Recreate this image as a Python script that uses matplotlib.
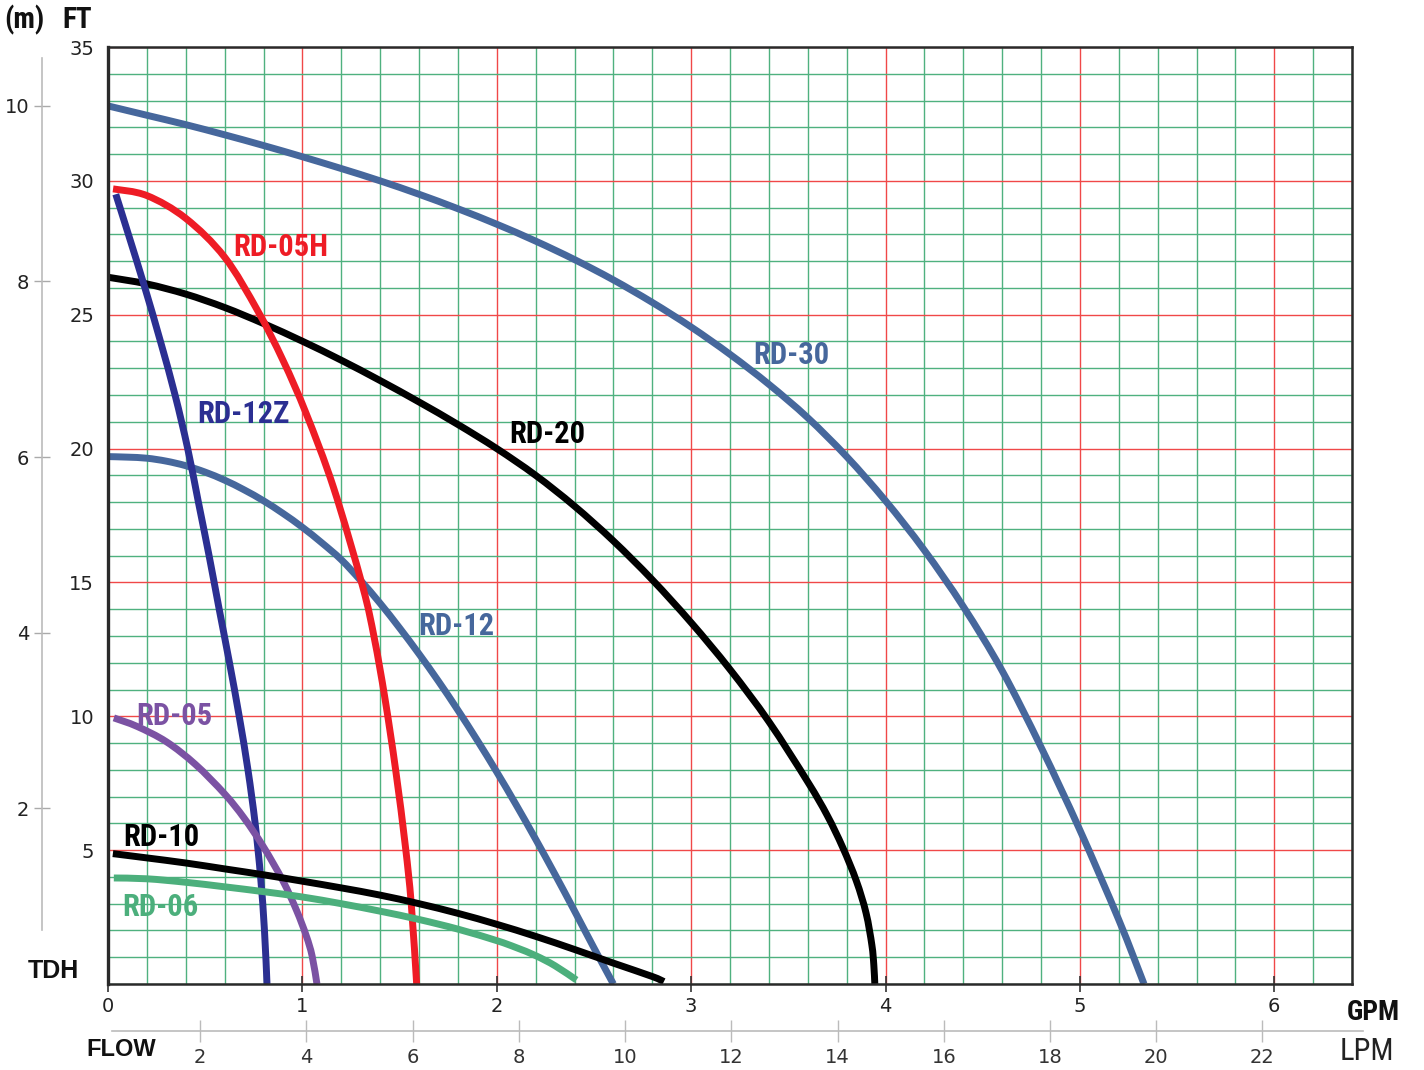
import matplotlib
matplotlib.use("Agg")
import matplotlib.pyplot as plt
from matplotlib import font_manager
from matplotlib.path import Path
from matplotlib.patches import PathPatch

# ---------------- data (GPM, FT) ----------------
rd30_gpm = [0.0, 0.2, 0.4, 0.6, 0.8, 1.0, 1.2, 1.4, 1.6, 1.8, 2.0, 2.2, 2.4, 2.6, 2.8, 3.0,
            3.2, 3.4, 3.6, 3.8, 4.0, 4.2, 4.4, 4.6, 4.8, 5.0, 5.2, 5.33]
rd30_ft = [32.8, 32.45, 32.1, 31.72, 31.32, 30.9, 30.46, 30.0, 29.5, 28.96, 28.38, 27.75, 27.06,
           26.3, 25.46, 24.54, 23.52, 22.4, 21.15, 19.7, 18.05, 16.2, 14.1, 11.7, 8.85, 5.75,
           2.4, 0.0]

rd20_gpm = [0.0, 0.2, 0.4, 0.6, 0.8, 1.0, 1.2, 1.4, 1.6, 1.8, 2.0, 2.2, 2.4, 2.6, 2.8, 3.0,
            3.2, 3.4, 3.6, 3.7, 3.78, 3.85, 3.9, 3.93, 3.94, 3.945]
rd20_ft = [26.4, 26.15, 25.77, 25.27, 24.67, 24.01, 23.3, 22.54, 21.74, 20.9, 20.0, 19.0, 17.85,
           16.55, 15.1, 13.5, 11.75, 9.8, 7.55, 6.3, 5.1, 3.85, 2.65, 1.45, 0.7, 0.0]

rd12_gpm = [0.0, 0.1, 0.2, 0.3, 0.4, 0.5, 0.6, 0.7, 0.8, 0.9, 1.0, 1.1, 1.2, 1.3, 1.4, 1.5,
            1.6, 1.7, 1.8, 1.9, 2.0, 2.1, 2.2, 2.3, 2.4, 2.5, 2.6]
rd12_ft = [19.7, 19.68, 19.64, 19.53, 19.36, 19.12, 18.82, 18.46, 18.05, 17.58, 17.06, 16.48,
           15.85, 15.07, 14.22, 13.3, 12.33, 11.31, 10.23, 9.1, 7.92, 6.69, 5.41, 4.09, 2.73,
           1.35, 0.0]

rd05h_gpm = [0.026, 0.2, 0.4, 0.6, 0.77, 0.9, 1.02, 1.16, 1.31, 1.37, 1.425, 1.48, 1.53, 1.56,
             1.588]
rd05h_ft = [29.7, 29.45, 28.6, 27.15, 25.15, 23.3, 21.3, 18.55, 14.85, 12.92, 10.66, 7.99,
            5.14, 3.01, 0.0]

rd12z_gpm = [0.04, 0.105, 0.19, 0.27, 0.345, 0.41, 0.465, 0.52, 0.572, 0.625, 0.675, 0.72,
             0.757, 0.785, 0.805, 0.818]
rd12z_ft = [29.5, 28.0, 26.0, 24.0, 22.0, 20.0, 18.0, 16.0, 14.0, 12.0, 10.0, 8.0, 6.0, 4.0,
            2.0, 0.0]

rd05_gpm = [0.03, 0.15, 0.3, 0.45, 0.6, 0.7, 0.8, 0.9, 0.97, 1.02, 1.05, 1.075]
rd05_ft = [9.94, 9.62, 9.05, 8.2, 7.1, 6.2, 5.12, 3.85, 2.75, 1.8, 1.05, 0.0]

rd10_gpm = [0.025, 0.2, 0.4, 0.6, 0.8, 1.0, 1.2, 1.4, 1.6, 1.8, 2.0, 2.2, 2.4, 2.6, 2.8, 2.86]
rd10_ft = [4.87, 4.71, 4.52, 4.3, 4.08, 3.84, 3.59, 3.32, 3.0, 2.64, 2.23, 1.78, 1.29, 0.78,
           0.28, 0.09]

rd06_gpm = [0.03, 0.2, 0.4, 0.6, 0.8, 1.0, 1.2, 1.4, 1.6, 1.8, 2.0, 2.1, 2.2, 2.3, 2.41]
rd06_ft = [3.96, 3.93, 3.8, 3.63, 3.45, 3.25, 3.0, 2.72, 2.41, 2.05, 1.62, 1.36, 1.06, 0.68, 0.15]

gpm_ticks = [0, 1, 2, 3, 4, 5, 6]
ft_ticks = [5, 10, 15, 20, 25, 30, 35]
m_ticks = [2, 4, 6, 8, 10]
lpm_ticks = [2, 4, 6, 8, 10, 12, 14, 16, 18, 20, 22]

# ---------------- fonts ----------------
_avail = {f.name for f in font_manager.fontManager.ttflist}


def pick(*names):
    for n in names:
        if n in _avail:
            return n
    return None


NARROW = pick("Liberation Sans Narrow", "Arial Narrow", "Roboto Condensed", "Open Sans Condensed")
SANS = pick("Liberation Sans", "Arial") or "DejaVu Sans"
LABFONT = NARROW or SANS
LABSIZE = 22 if NARROW else 20
DIG = "DejaVu Sans"

# ---------------- figure ----------------
W, H = 1424, 1070
fig = plt.figure(figsize=(W / 100, H / 100), dpi=100)
fig.patch.set_facecolor("white")

L, R, T, B = 108, 1352, 47, 984
ax = fig.add_axes([L / W, 1 - B / H, (R - L) / W, (B - T) / H])
ax.set_xlim(0, 6.4)
ax.set_ylim(0, 35)

GREEN = "#4fb17f"
RED = "#f04848"
ax.set_xticks([i * 0.2 for i in range(33)], minor=True)
ax.set_yticks(range(36), minor=True)
ax.set_xticks(gpm_ticks)
ax.set_yticks(ft_ticks)
ax.grid(which="minor", color=GREEN, lw=1.0, zorder=0)
ax.grid(which="major", color=RED, lw=1.0, zorder=0.5)
ax.set_axisbelow(True)

for s in ax.spines.values():
    s.set_color("#2a2a2a")
    s.set_linewidth(1.8)
    s.set_zorder(5)
ax.spines["left"].set_linewidth(2.4)

ax.tick_params(axis="x", which="major", direction="inout", length=12, width=1.2,
               color="#333333", pad=3, labelsize=14, labelcolor="#222222")
ax.tick_params(axis="x", which="minor", length=0)
ax.tick_params(axis="y", which="both", length=0, pad=10, labelsize=14, labelcolor="#222222")
for lab in ax.get_xticklabels() + ax.get_yticklabels():
    lab.set_fontfamily(DIG)


def smooth_path(xs, ys):
    """Cubic Bezier path passing through every data point (Catmull-Rom tangents)."""
    pts = list(zip(xs, ys))
    n = len(pts)
    verts = [pts[0]]
    codes = [Path.MOVETO]
    for i in range(n - 1):
        p0 = pts[i - 1] if i > 0 else pts[i]
        p1 = pts[i]
        p2 = pts[i + 1]
        p3 = pts[i + 2] if i + 2 < n else pts[i + 1]
        c1 = (p1[0] + (p2[0] - p0[0]) / 6.0, p1[1] + (p2[1] - p0[1]) / 6.0)
        c2 = (p2[0] - (p3[0] - p1[0]) / 6.0, p2[1] - (p3[1] - p1[1]) / 6.0)
        verts += [c1, c2, p2]
        codes += [Path.CURVE4] * 3
    return Path(verts, codes)


BLUE = "#46679c"
curves = [
    (rd30_gpm, rd30_ft, BLUE),
    (rd20_gpm, rd20_ft, "#000000"),
    (rd12_gpm, rd12_ft, BLUE),
    (rd05h_gpm, rd05h_ft, "#ee1c25"),
    (rd12z_gpm, rd12z_ft, "#2b2f92"),
    (rd05_gpm, rd05_ft, "#7b52a3"),
    (rd10_gpm, rd10_ft, "#000000"),
    (rd06_gpm, rd06_ft, "#4caf7c"),
]
for xs, ys, c in curves:
    ax.add_patch(PathPatch(smooth_path(xs, ys), facecolor="none", edgecolor=c, lw=5.0,
                           capstyle="butt", joinstyle="round", zorder=3))

# curve labels
lab_kw = dict(fontsize=LABSIZE, fontweight="bold", fontfamily=LABFONT, ha="left",
              va="baseline", zorder=6)
ax.text(0.643, 27.2, "RD-05H", color="#ee1c25", **lab_kw)
ax.text(3.318, 23.17, "RD-30", color=BLUE, **lab_kw)
ax.text(0.458, 20.97, "RD-12Z", color="#2b2f92", **lab_kw)
ax.text(2.063, 20.19, "RD-20", color="#000000", **lab_kw)
ax.text(1.595, 13.02, "RD-12", color=BLUE, **lab_kw)
ax.text(0.144, 9.66, "RD-05", color="#7b52a3", **lab_kw)
ax.text(0.077, 5.15, "RD-10", color="#000000", **lab_kw)
ax.text(0.072, 2.54, "RD-06", color="#4caf7c", **lab_kw)

# ---------------- metre axis ----------------
axm = fig.add_axes([42 / W, 1 - B / H, 0.0005, (B - T) / H])
axm.set_ylim(0, 35 * 0.3048)
axm.patch.set_visible(False)
for k in ("top", "right", "bottom"):
    axm.spines[k].set_visible(False)
axm.spines["left"].set_color("#bbbbbb")
axm.spines["left"].set_linewidth(1.2)
axm.spines["left"].set_bounds((B - 930) / 26.77 * 0.3048, (B - 58) / 26.77 * 0.3048)
axm.set_xticks([])
axm.set_yticks(m_ticks)
axm.tick_params(axis="y", direction="inout", length=12, width=1.0, color="#aaaaaa",
                pad=3, labelsize=14, labelcolor="#222222")
for lab in axm.get_yticklabels():
    lab.set_fontfamily(DIG)

# ---------------- LPM axis ----------------
lx0, lx1, ly = 112, 1363, 1031
lpm_px0, lpm_scale = 94.0, 53.11
axl = fig.add_axes([lx0 / W, 1 - ly / H, (lx1 - lx0) / W, 0.0005])
axl.set_xlim((lx0 - lpm_px0) / lpm_scale, (lx1 - lpm_px0) / lpm_scale)
axl.patch.set_visible(False)
for k in ("top", "right", "left"):
    axl.spines[k].set_visible(False)
axl.spines["bottom"].set_color("#bbbbbb")
axl.spines["bottom"].set_linewidth(1.2)
axl.set_yticks([])
axl.set_xticks(lpm_ticks)
axl.tick_params(axis="x", direction="inout", length=16, width=1.0, color="#bbbbbb",
                pad=4, labelsize=14, labelcolor="#333333")
for lab in axl.get_xticklabels():
    lab.set_fontfamily(DIG)

# ---------------- annotation text ----------------
def ftxt(px, py, s, **kw):
    fig.text(px / W, 1 - py / H, s, **kw)


ftxt(4, 20, "(m)", fontsize=21, fontfamily=LABFONT, fontweight="bold", ha="left", va="center",
     color="#111111")
ftxt(62, 20, "FT", fontsize=21, fontfamily=LABFONT, fontweight="bold", ha="left", va="center",
     color="#111111")
ftxt(28, 971, "TDH", fontsize=18, fontfamily=SANS, fontweight="bold", ha="left", va="center",
     color="#111111")
ftxt(86, 1049, "FLOW", fontsize=17, fontfamily=SANS, fontweight="bold", ha="left", va="center",
     color="#111111")
ftxt(1347, 1012, "GPM", fontsize=20, fontfamily=LABFONT, fontweight="bold", ha="left",
     va="center", color="#111111")
ftxt(1340, 1052, "LPM", fontsize=22, fontfamily=LABFONT, ha="left", va="center", color="#222222")

fig.savefig("out.png", dpi=100, facecolor="white")
